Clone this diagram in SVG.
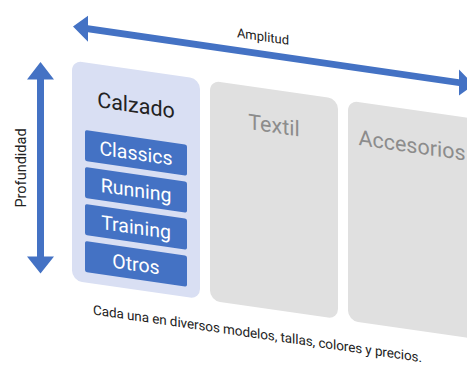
<svg xmlns="http://www.w3.org/2000/svg" width="467" height="365" viewBox="0 0 467 365">
<style>
.arrow{fill:#4472C4}
.lbl{font-family:Roboto,"Liberation Sans",sans-serif;fill:#222}
.title{font-family:Roboto,"Liberation Sans",sans-serif;font-size:21.5px;text-anchor:middle}
.cat{fill:#D9DFF3}
.grey{fill:#E0E0E0}
.sub{fill:#4472C4}
.subt{font-family:Roboto,"Liberation Sans",sans-serif;font-size:19.5px;fill:#fff;text-anchor:middle}
</style>
<rect width="467" height="365" fill="#fff"/>
<g id="connectors">
  <g id="profundidad-arrow">
    <polygon class="arrow" points="40.5,62 54,79.5 44,79.5 44,256.5 54,256.5 40.5,273.5 27,256.5 37,256.5 37,79.5 27,79.5"/>
    <text class="lbl" font-size="14.5" text-anchor="middle" transform="translate(26,168) rotate(-90)">Profundidad</text>
  </g>
  <g id="amplitud-arrow" transform="matrix(1,0.145,0,1,0,0)">
    <polygon class="arrow" points="73,16 88,3 88,12.6 459,12.6 459,3 474,16 459,29 459,19.4 88,19.4 88,29"/>
    <text class="lbl" font-size="13" x="263" y="3" text-anchor="middle">Amplitud</text>
  </g>
</g>
<g transform="matrix(1,0.145,0,1,0,0)">
  <g id="calzado">
    <rect class="cat" x="72" y="50" width="128" height="220" rx="10"/>
    <text class="title" x="136" y="93" fill="#222">Calzado</text>
  </g>
  <g id="classics">
    <rect class="sub" x="85" y="117.7" width="102" height="31" rx="2"/>
    <text class="subt" x="136" y="140.3">Classics</text>
  </g>
  <g id="running">
    <rect class="sub" x="85" y="154.7" width="102" height="31" rx="2"/>
    <text class="subt" x="136" y="177.3">Running</text>
  </g>
  <g id="training">
    <rect class="sub" x="85" y="191.7" width="102" height="31" rx="2"/>
    <text class="subt" x="136" y="214.3">Training</text>
  </g>
  <g id="otros">
    <rect class="sub" x="85" y="228.7" width="102" height="31" rx="2"/>
    <text class="subt" x="136" y="251.3">Otros</text>
  </g>
  <g id="textil">
    <rect class="grey" x="210" y="50" width="128" height="220" rx="10"/>
    <text class="title" x="274" y="93" fill="#8C8C8C">Textil</text>
  </g>
  <g id="accesorios">
    <rect class="grey" x="348" y="50" width="128" height="220" rx="10"/>
    <text class="title" x="412" y="93" fill="#8C8C8C">Accesorios</text>
  </g>
  <text class="lbl" font-size="13.5" x="93" y="301" textLength="329" lengthAdjust="spacing">Cada una en diversos modelos, tallas, colores y precios.</text>
</g>
</svg>
